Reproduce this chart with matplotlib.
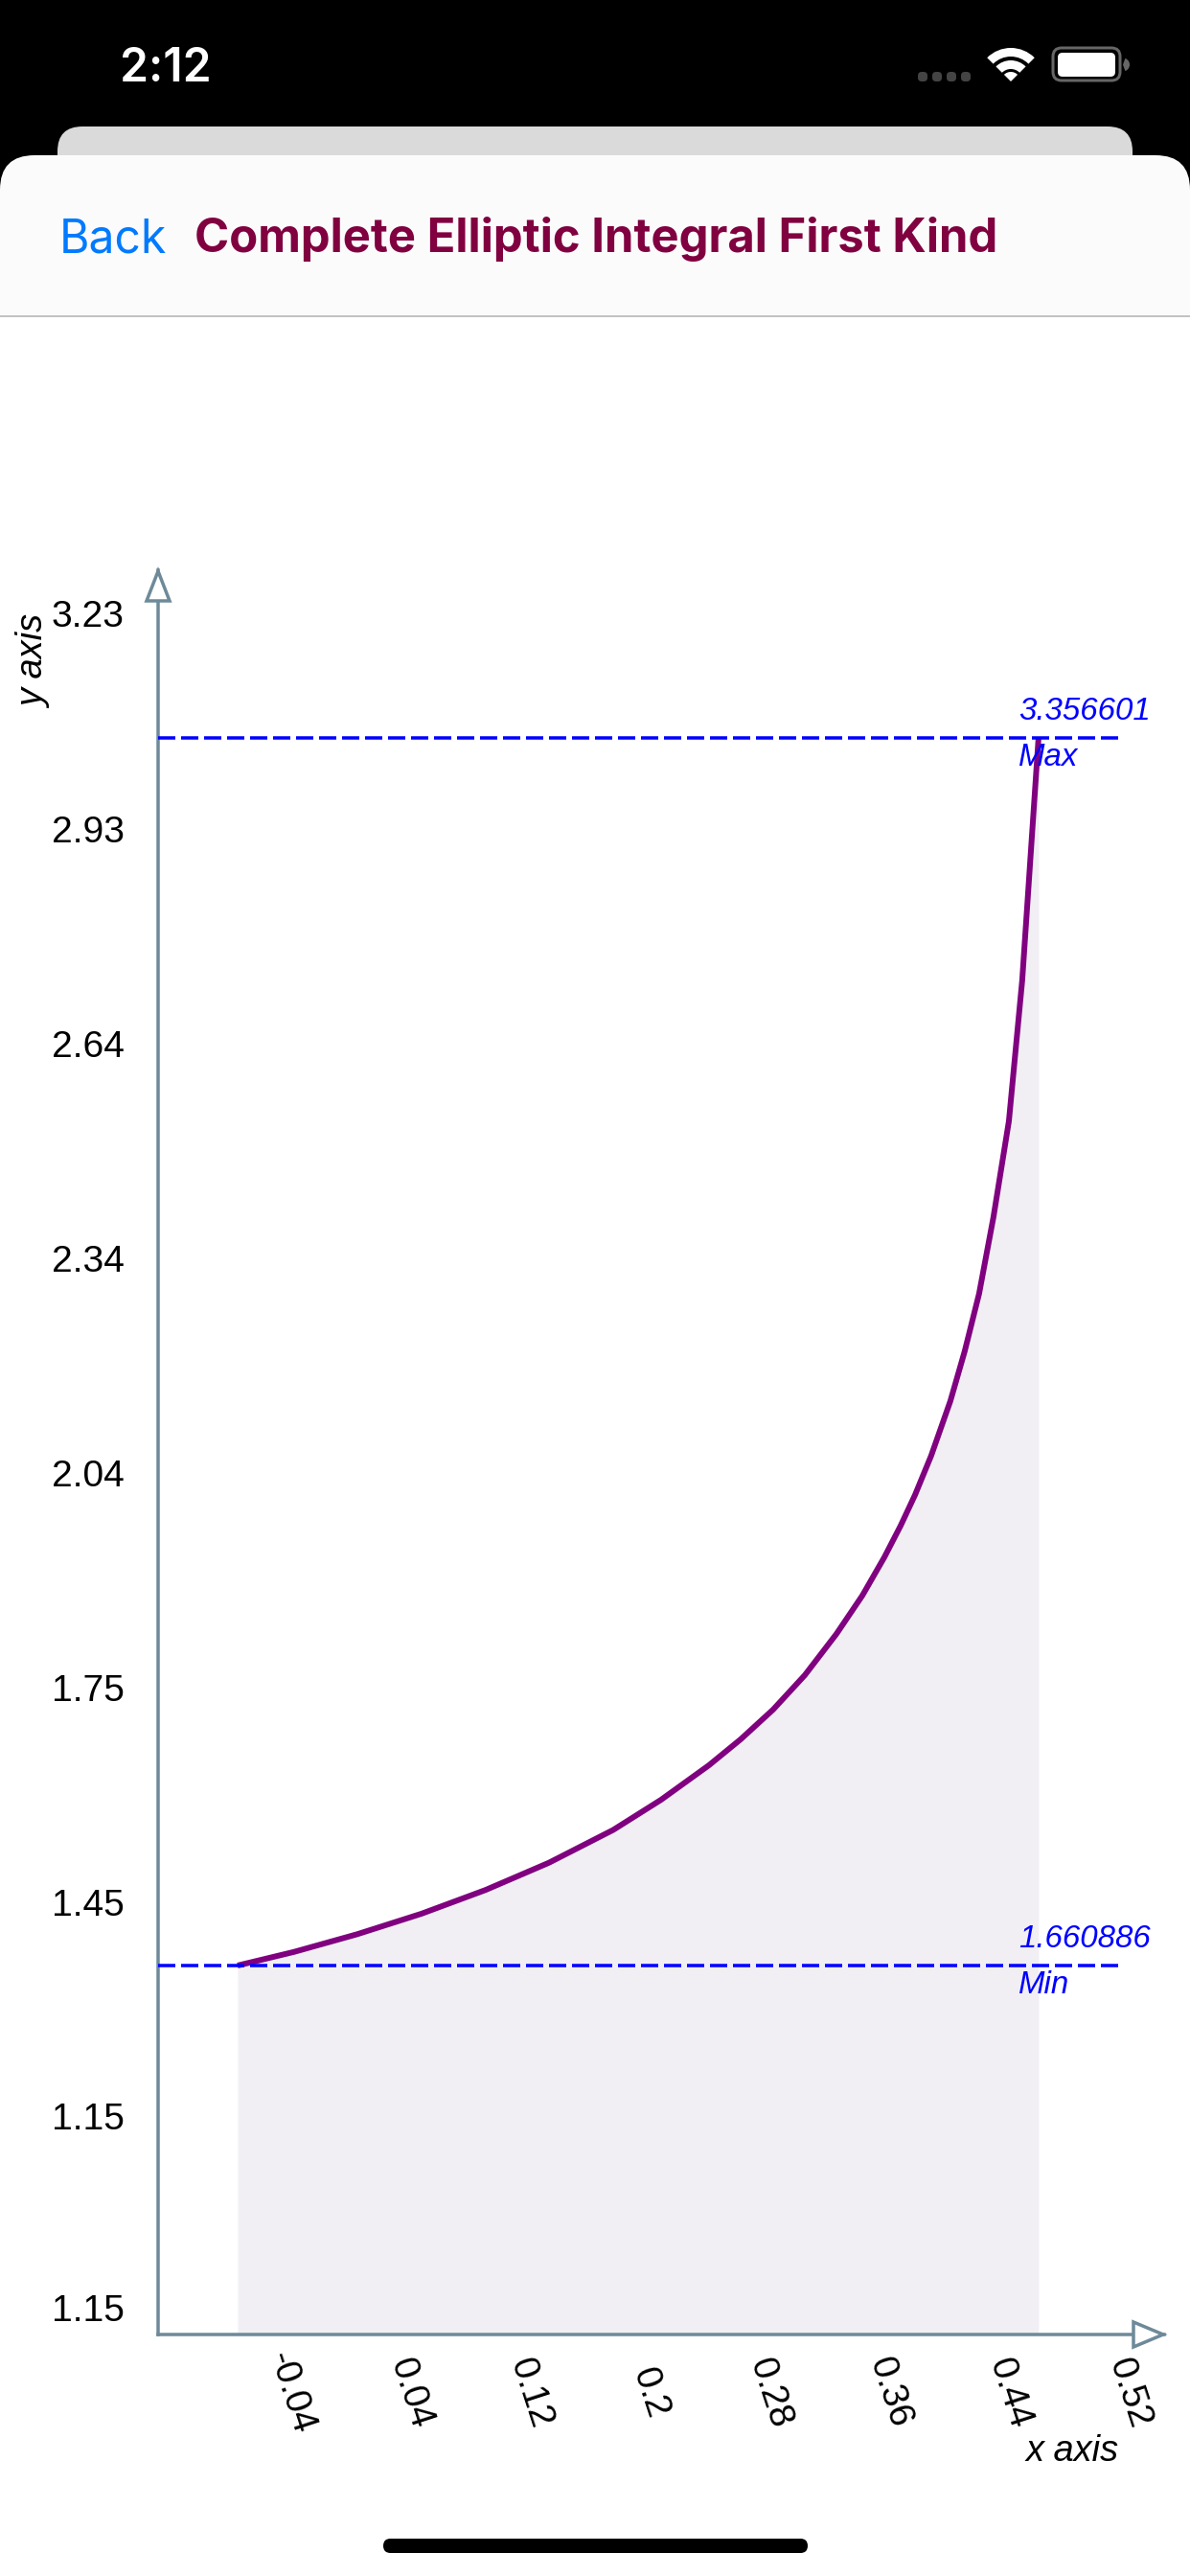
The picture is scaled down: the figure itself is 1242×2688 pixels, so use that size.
import matplotlib
matplotlib.use("Agg")
import matplotlib.pyplot as plt
from matplotlib.patches import Rectangle, FancyBboxPatch, Wedge, Polygon

# values
curve_x = [-0.0803, -0.0426, -0.0003, 0.0426, 0.0854, 0.1277, 0.1706, 0.2026, 0.2346,
           0.2557, 0.2774, 0.2986, 0.3197, 0.3370, 0.3517, 0.3626, 0.3722, 0.3830,
           0.3958, 0.4054, 0.4150, 0.4246, 0.4349, 0.4438, 0.4547]
curve_y = [1.660886, 1.6797, 1.7042, 1.7325, 1.7653, 1.8029, 1.8482, 1.8899, 1.9376,
           1.9733, 2.0144, 2.0620, 2.1189, 2.1719, 2.2248, 2.2685, 2.3109, 2.3652,
           2.4406, 2.5095, 2.5889, 2.6948, 2.8272, 3.0218, 3.356601]
y_max = 3.356601
y_min = 1.660886
# the app draws the axis labels away from their real values, so they get their own positions
x_tick_pos = [-0.045, 0.035, 0.115, 0.195, 0.275, 0.355, 0.435, 0.515]
x_labels = ["-0.04", "0.04", "0.12", "0.2", "0.28", "0.36", "0.44", "0.52"]
y_tick_pos = [3.5288, 3.2309, 2.9344, 2.6379, 2.3413, 2.0448, 1.7483, 1.4531, 1.1883]
y_labels = ["3.23", "2.93", "2.64", "2.34", "2.04", "1.75", "1.45", "1.15", "1.15"]

W, H = 1242, 2688
AXIS = "#6E8A99"
BLUE = "#0000FF"
FONT = "Liberation Sans"


def px(v):
    return v * 0.72


plt.rcParams["font.family"] = [FONT, "DejaVu Sans"]
fig = plt.figure(figsize=(W / 100, H / 100), dpi=100, facecolor="white")

# phone chrome, in pixel coordinates
ui = fig.add_axes([0, 0, 1, 1], zorder=0)
ui.set_xlim(0, W)
ui.set_ylim(H, 0)
ui.axis("off")

ui.add_patch(Rectangle((0, 0), W, 230, color="black", lw=0))
ui.add_patch(FancyBboxPatch((60, 132), 1122, 100, boxstyle="round,pad=0,rounding_size=26",
                            fc="#DADADA", ec="none"))
ui.add_patch(FancyBboxPatch((0, 162), W, 240, boxstyle="round,pad=0,rounding_size=36",
                            fc="#FBFBFB", ec="none"))
ui.add_patch(Rectangle((0, 330), W, H - 330, color="white", lw=0))
ui.plot([0, W], [330, 330], color="#B4B4B4", lw=px(1.6))

ui.text(125, 85, "2:12", color="white", fontsize=px(48), family="Inter", weight="semibold",
        va="baseline")
for cx in [963, 978, 993, 1008]:
    ui.add_patch(FancyBboxPatch((cx - 5, 75), 10, 10, boxstyle="round,pad=0,rounding_size=4",
                                fc="#444444", ec="none"))
for r0, r1 in [(26, 35), (13, 22), (0, 10)]:
    ui.add_patch(Wedge((1055, 85), r1, 225, 315, width=r1 - r0, fc="white", ec="none"))
ui.add_patch(FancyBboxPatch((1099, 50), 70, 34, boxstyle="round,pad=0,rounding_size=9",
                            fc="black", ec="#666666", lw=px(3)))
ui.add_patch(FancyBboxPatch((1104, 55), 60, 25, boxstyle="round,pad=0,rounding_size=5",
                            fc="white", ec="none"))
ui.add_patch(Wedge((1172, 67.5), 7, -70, 70, fc="#666666", ec="none"))

ui.text(62, 263, "Back", color="#007AFF", fontsize=px(48), family="Inter", va="baseline")
ui.text(203, 263, "Complete Elliptic Integral First Kind", color="#800040", fontsize=px(49),
        family="Inter", weight="bold", va="baseline")
ui.add_patch(FancyBboxPatch((400, 2649), 443, 15, boxstyle="round,pad=0,rounding_size=7.5",
                            fc="black", ec="none"))

# chart
left, right, top, bottom = 165, 1215, 595, 2436
ax = fig.add_axes([left / W, 1 - bottom / H, (right - left) / W, (bottom - top) / H], zorder=1)
ax.patch.set_alpha(0)
ax.set_xlim(-0.1334, 0.5386)
ax.set_ylim(1.1512, 3.5883)

ax.fill_between(curve_x, curve_y, 1.1512, color="#F1EFF4", lw=0, zorder=1)
ax.plot(curve_x, curve_y, color="#800080", lw=px(6), solid_capstyle="butt", zorder=3)

end_x = 0.5078
dash = (0, (18 / 3.5, 6 / 3.5))
for val in [y_max, y_min]:
    ax.plot([ax.get_xlim()[0], end_x], [val, val], color=BLUE, lw=px(3.5), ls=dash, zorder=4)

label_x = 0.4413
for val, num, word in [(y_max, "3.356601", "Max"), (y_min, "1.660886", "Min")]:
    ax.annotate(num, (label_x, val), xytext=(0, px(19)), textcoords="offset points",
                color=BLUE, fontsize=px(33), style="italic", va="baseline", zorder=5)
    ax.annotate(word, (label_x, val), xytext=(0, -px(29)), textcoords="offset points",
                color=BLUE, fontsize=px(33), style="italic", va="baseline", zorder=5)

for s in ["top", "right"]:
    ax.spines[s].set_visible(False)
for s in ["left", "bottom"]:
    ax.spines[s].set_color(AXIS)
    ax.spines[s].set_linewidth(px(3.5))

ax.set_xticks(x_tick_pos, x_labels)
ax.set_yticks(y_tick_pos, y_labels)
ax.tick_params(axis="x", length=0, pad=px(61), labelsize=px(38.5), labelrotation=-72)
ax.tick_params(axis="y", length=0, pad=px(111), labelsize=px(39))
for t in ax.get_xticklabels():
    t.set_ha("center")
    t.set_va("center")
for t in ax.get_yticklabels():
    t.set_ha("left")

ax.set_xlabel("x axis", style="italic", fontsize=px(38), va="baseline", ha="center")
ax.xaxis.set_label_coords(1119, 2568, transform=ui.transData)
ax.set_ylabel("y axis", style="italic", fontsize=px(38), va="center", ha="center")
ax.yaxis.set_label_coords(36, 690, transform=ui.transData)

# open arrow heads at the axis ends
for pts in [[(165, 596), (153, 627), (177, 627)], [(1214, 2436), (1183, 2423), (1183, 2449)]]:
    ax.add_patch(Polygon(pts, closed=True, fc="white", ec=AXIS, lw=px(3.5), zorder=6,
                         clip_on=False, transform=ui.transData))

fig.savefig("out.png", dpi=100)
